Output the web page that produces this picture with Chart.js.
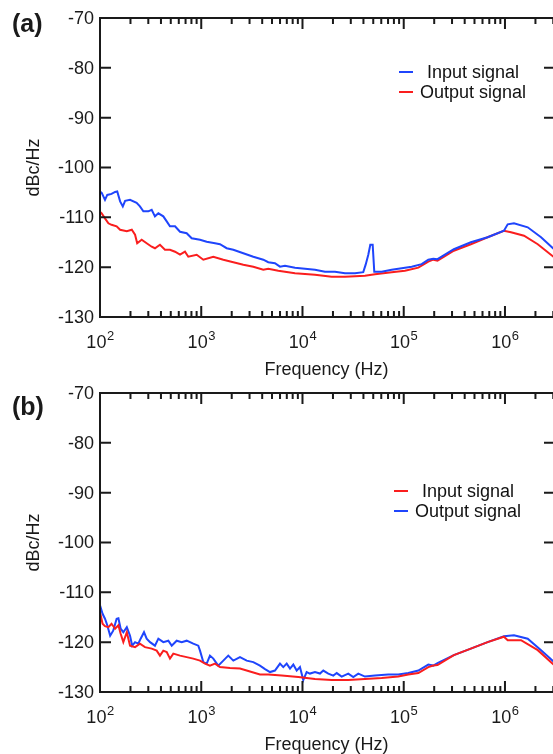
<!DOCTYPE html>
<html>
<head>
<meta charset="utf-8">
<script src="https://cdn.jsdelivr.net/npm/chart.js@4.4.1/dist/chart.umd.min.js"></script>
<style>
  html, body { margin: 0; padding: 0; background: #fff; overflow: hidden; }
  canvas { position: absolute; left: 0; }
  #chart-a { top: 0; }
  #chart-b { top: 375px; }
</style>
</head>
<body>
<canvas id="chart-a" width="560" height="390"></canvas>
<canvas id="chart-b" width="560" height="379"></canvas>
<script>
// panel (a): blue = input, red = output
const freqA_in = [100, 104, 112, 118, 130, 141, 148, 158, 168, 177, 198, 230, 248, 268, 300, 324, 349, 377, 422, 456, 491, 551, 617, 718, 805, 972, 1132, 1368, 1531, 1783, 2074, 2603, 3268, 4102, 4592, 5346, 5995, 6719, 8433, 10590, 13290, 16680, 20940, 26280, 33000, 39840, 42070, 44670, 46750, 49350, 51170, 60530, 76030, 95450, 119900, 150400, 174900, 196000, 215600, 312700, 460000, 674000, 977000, 1064000, 1227000, 1678000, 2272000, 3055000];
const dbA_in = [-104.8, -105.1, -106.5, -105.5, -105.3, -104.9, -104.8, -106.8, -107.8, -106.7, -106.5, -107.1, -107.8, -108.8, -108.8, -108.5, -109.8, -109.2, -109.8, -110.8, -111.8, -111.8, -112.9, -113.2, -114.2, -114.5, -114.9, -115.2, -115.4, -116.2, -116.5, -117.2, -117.9, -118.5, -119.0, -119.2, -119.9, -119.7, -120.1, -120.3, -120.5, -120.9, -120.9, -121.2, -121.2, -121.0, -119.5, -117.5, -115.5, -115.5, -120.9, -120.9, -120.5, -120.2, -119.9, -119.4, -118.5, -118.3, -118.4, -116.4, -115.0, -114.0, -112.7, -111.4, -111.2, -112.0, -114.0, -116.4];
const freqA_out = [100, 104, 112, 121, 130, 146, 158, 184, 206, 222, 233, 258, 289, 324, 349, 391, 438, 491, 551, 617, 691, 745, 902, 1048, 1316, 1652, 2074, 2603, 3268, 4102, 4592, 5768, 8433, 13290, 19410, 26280, 41400, 52000, 76030, 102900, 139400, 174900, 196000, 215600, 312700, 460000, 674000, 977000, 1147000, 1542000, 2108000, 3055000];
const dbA_out = [-108.9, -109.2, -110.2, -111.2, -111.5, -111.8, -112.5, -112.8, -112.5, -113.5, -115.2, -114.5, -115.2, -115.9, -116.2, -115.5, -116.5, -116.5, -116.9, -117.5, -116.9, -117.9, -117.5, -118.5, -117.9, -118.5, -119.0, -119.5, -119.9, -120.5, -120.3, -120.7, -121.2, -121.5, -121.9, -121.9, -121.7, -121.4, -121.0, -120.7, -120.1, -118.9, -118.5, -118.7, -116.7, -115.4, -114.0, -112.7, -113.0, -113.7, -115.4, -118.0];

// panel (b): red = input, blue = output
const freqB_in = [100, 106, 112, 121, 130, 141, 152, 160, 170, 184, 198, 222, 248, 278, 324, 363, 391, 422, 456, 491, 530, 617, 718, 834, 972, 1089, 1219, 1368, 1531, 1923, 2414, 3030, 3801, 4592, 6233, 9095, 13290, 19410, 28330, 41400, 60530, 88310, 110900, 139400, 174900, 196000, 215600, 312700, 460000, 674000, 977000, 1064000, 1440000, 2108000, 3055000];
const dbB_in = [-114.0, -116.3, -116.8, -117.0, -116.3, -117.3, -116.6, -118.3, -120.0, -118.0, -120.7, -121.0, -120.3, -121.0, -121.3, -121.7, -122.7, -121.7, -122.0, -123.3, -122.3, -122.7, -123.0, -123.3, -123.7, -124.3, -124.7, -124.3, -125.0, -125.2, -125.3, -125.9, -126.5, -126.5, -126.7, -127.0, -127.4, -127.6, -127.6, -127.4, -127.2, -126.9, -126.5, -126.2, -125.0, -124.7, -124.6, -122.6, -121.3, -120.0, -118.9, -119.6, -119.6, -121.6, -124.6];
const freqB_out = [100, 106, 112, 118, 126, 135, 146, 152, 160, 170, 184, 198, 208, 222, 239, 252, 272, 289, 312, 349, 377, 422, 473, 511, 572, 641, 718, 834, 935, 972, 1048, 1132, 1219, 1316, 1472, 1652, 1849, 2074, 2414, 2811, 3268, 3801, 4266, 4775, 5346, 5995, 6461, 6982, 7532, 8117, 8765, 9443, 10180, 10990, 11850, 13290, 14890, 16050, 17980, 20150, 21780, 24390, 28330, 31750, 35570, 41400, 52000, 70310, 88310, 110900, 139400, 174900, 196000, 215600, 312700, 460000, 674000, 977000, 1227000, 1678000, 2272000, 3055000];
const dbB_out = [-112.6, -114.3, -115.3, -116.6, -118.7, -117.7, -115.3, -115.2, -117.3, -118.0, -117.0, -118.7, -120.7, -120.0, -120.3, -119.3, -118.0, -119.3, -120.0, -120.7, -119.3, -120.0, -119.7, -120.7, -119.7, -120.0, -119.7, -120.3, -120.7, -121.7, -124.0, -124.3, -122.7, -123.3, -124.7, -123.7, -122.7, -123.7, -123.0, -123.7, -124.0, -124.7, -125.4, -126.0, -125.7, -124.3, -125.0, -124.3, -125.3, -124.5, -125.7, -125.0, -127.6, -126.0, -126.3, -126.0, -126.3, -125.7, -126.3, -126.7, -126.2, -126.9, -126.3, -127.0, -126.3, -126.9, -126.7, -126.5, -126.5, -126.2, -125.7, -124.5, -124.7, -124.2, -122.6, -121.3, -120.0, -118.8, -118.6, -119.3, -121.6, -124.0];

const yTicks = [-70, -80, -90, -100, -110, -120, -130];
const decades = [2, 3, 4, 5, 6];

const BLUE = "#1f45fc";
const RED = "#fa1e1e";
const FONT = '"Liberation Sans", Arial, sans-serif';

function pts(xs, ys) {
    return xs.map((f, i) => ({ x: f, y: ys[i] }));
}

// frame, inward ticks, labels and legend drawn over the library scales
const framePlugin = {
    id: "frame",
    afterDraw(chart, args, opts) {
        const { ctx, chartArea: a } = chart;
        const x = chart.scales.x, y = chart.scales.y;
        ctx.save();
        ctx.strokeStyle = "#1a1a1a";
        ctx.fillStyle = "#1a1a1a";
        ctx.lineWidth = 2;
        ctx.strokeRect(a.left, a.top, a.right - a.left, a.bottom - a.top);

        // y ticks
        ctx.font = "18px " + FONT;
        ctx.textAlign = "right";
        ctx.textBaseline = "middle";
        yTicks.forEach(v => {
            const py = y.getPixelForValue(v);
            ctx.beginPath();
            ctx.moveTo(a.left, py); ctx.lineTo(a.left + 11, py);
            ctx.moveTo(a.right, py); ctx.lineTo(a.right - 11, py);
            ctx.stroke();
            ctx.fillText(String(v), a.left - 6, py + 1);
        });

        // x ticks (log)
        decades.forEach(d => {
            for (let m = 1; m <= 9; m++) {
                const f = m * Math.pow(10, d);
                if (f > x.max) break;
                const px = x.getPixelForValue(f);
                const len = m == 1 ? 11 : 6;
                ctx.beginPath();
                ctx.moveTo(px, a.top); ctx.lineTo(px, a.top + len);
                ctx.moveTo(px, a.bottom); ctx.lineTo(px, a.bottom - len);
                ctx.stroke();
            }
            // 10^d label
            const px = x.getPixelForValue(Math.pow(10, d));
            ctx.font = "18px " + FONT;
            const w1 = ctx.measureText("10").width;
            ctx.font = "13px " + FONT;
            const w2 = ctx.measureText(String(d)).width;
            const x0 = px - (w1 + w2) / 2;
            ctx.textAlign = "left";
            ctx.textBaseline = "middle";
            ctx.font = "18px " + FONT;
            ctx.fillText("10", x0, a.bottom + 26);
            ctx.font = "13px " + FONT;
            ctx.fillText(String(d), x0 + w1 + 0.5, a.bottom + 19);
        });

        // axis titles
        ctx.font = "18px " + FONT;
        ctx.textAlign = "center";
        ctx.textBaseline = "middle";
        ctx.fillText("Frequency (Hz)", (a.left + a.right) / 2 - 1, a.bottom + 53);
        ctx.save();
        ctx.translate(34, (a.top + a.bottom) / 2);
        ctx.rotate(-Math.PI / 2);
        ctx.fillText("dBc/Hz", 0, 0);
        ctx.restore();

        // panel letter
        ctx.font = "bold 25px " + FONT;
        ctx.textAlign = "left";
        ctx.fillText(opts.letter, 12, opts.letterY);

        // legend
        ctx.font = "18px " + FONT;
        chart.data.datasets.forEach((ds, i) => {
            const ly = opts.legendY + i * 20;
            ctx.strokeStyle = ds.borderColor;
            ctx.beginPath();
            ctx.moveTo(opts.legendX, ly); ctx.lineTo(opts.legendX + 14, ly);
            ctx.stroke();
            ctx.fillStyle = "#111";
            ctx.textAlign = "center";
            ctx.fillText(ds.label, opts.textX, ly + 1);
        });
        ctx.restore();
    }
};

function makeChart(id, sets, bottomPad, frameOpts) {
    return new Chart(document.getElementById(id).getContext("2d"), {
        type: "line",
        data: {
            datasets: sets.map(s => ({
                label: s.label,
                data: pts(s.xs, s.ys),
                borderColor: s.color,
                borderWidth: 2,
                pointRadius: 0,
                tension: 0,
                fill: false
            }))
        },
        options: {
            responsive: false,
            animation: false,
            devicePixelRatio: 1,
            layout: { padding: { left: 100, right: 5, top: 18, bottom: bottomPad } },
            plugins: { legend: { display: false }, tooltip: { enabled: false }, frame: frameOpts },
            scales: {
                x: { type: "logarithmic", min: 100, max: 3.12e6, display: false },
                y: { min: -130, max: -70, display: false }
            }
        },
        plugins: [framePlugin]
    });
}

makeChart("chart-a", [
    { label: "Input signal", xs: freqA_in, ys: dbA_in, color: BLUE },
    { label: "Output signal", xs: freqA_out, ys: dbA_out, color: RED }
], 73, { letter: "(a)", letterY: 25, legendX: 399, legendY: 72, textX: 473 });

makeChart("chart-b", [
    { label: "Input signal", xs: freqB_in, ys: dbB_in, color: RED },
    { label: "Output signal", xs: freqB_out, ys: dbB_out, color: BLUE }
], 62, { letter: "(b)", letterY: 33, legendX: 394, legendY: 116, textX: 468 });
</script>
</body>
</html>
